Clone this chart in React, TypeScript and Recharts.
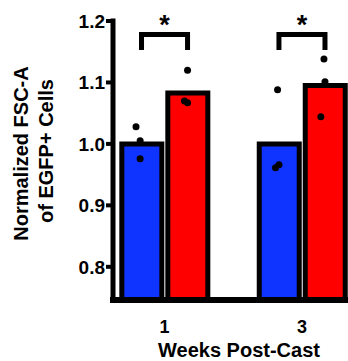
import React from "react";
import { ComposedChart, Bar, Scatter, XAxis, YAxis } from "recharts";

const weeks = [1, 3];
const barsBlue = [1.0, 1.0];
const barsRed = [1.083, 1.095];
const dotsBlue = [
  [1.028, 1.005, 0.976],
  [1.088, 0.961, 0.966],
];
const dotsRed = [
  [1.12, 1.07, 1.067],
  [1.138, 1.101, 1.044],
];
const jitterBlue = [
  [-0.08, -0.02, -0.02],
  [-0.02, -0.05, 0.0],
];
const jitterRed = [
  [0.0, -0.045, 0.0],
  [-0.015, 0.0, -0.06],
];
const yTicks = [0.8, 0.9, 1.0, 1.1, 1.2];
const bracketLow = 1.153;
const bracketHigh = 1.178;
const starLevel = 1.2;

const FONT = "'Liberation Sans', Arial, sans-serif";
const SIDE = 0.335;
const X_DOMAIN: [number, number] = [0.25, 3.67];

const barData = weeks.map((w, i) => ({ week: w, blue: barsBlue[i], red: barsRed[i] }));

const blueDots = weeks.flatMap((w, i) =>
  dotsBlue[i].map((v, j) => ({ week: w - SIDE + jitterBlue[i][j], value: v }))
);
const redDots = weeks.flatMap((w, i) =>
  dotsRed[i].map((v, j) => ({ week: w + SIDE + jitterRed[i][j], value: v }))
);
const brackets = weeks.map((w) => [
  { week: w - SIDE, value: bracketLow },
  { week: w - SIDE, value: bracketHigh },
  { week: w + SIDE, value: bracketHigh },
  { week: w + SIDE, value: bracketLow },
]);
const stars = weeks.map((w) => ({ week: w, value: starLevel }));

const Dot = (props: any) => <circle cx={props.cx} cy={props.cy} r={3.5} fill="#000" />;
const NoShape = () => <g />;
const Star = (props: any) => (
  <text
    x={props.cx}
    y={props.cy}
    dy={13}
    textAnchor="middle"
    fontSize={27}
    fontWeight="bold"
    fontFamily={FONT}
    fill="#000"
  >
    *
  </text>
);

const YLabel = () => (
  <g>
    <text
      transform="translate(28,153.5) rotate(-90)"
      textAnchor="middle"
      fontSize={20}
      fontWeight="bold"
      fontFamily={FONT}
      fill="#000"
    >
      Normalized FSC-A
    </text>
    <text
      transform="translate(53,151) rotate(-90)"
      textAnchor="middle"
      fontSize={20}
      fontWeight="bold"
      fontFamily={FONT}
      fill="#000"
    >
      of EGFP+ Cells
    </text>
  </g>
);

const XLabel = () => (
  <text
    x={239}
    y={356.5}
    textAnchor="middle"
    fontSize={20}
    fontWeight="bold"
    fontFamily={FONT}
    fill="#000"
  >
    Weeks Post-Cast
  </text>
);

export default function App() {
  return (
    <div style={{ position: "absolute", left: 0, top: 0, background: "#fff" }}>
      <ComposedChart
        width={348}
        height={361}
        data={barData}
        margin={{ top: 21, right: 0, bottom: 0, left: 0 }}
        barGap={6}
      >
        <XAxis
          dataKey="week"
          type="number"
          domain={X_DOMAIN}
          allowDataOverflow
          ticks={weeks}
          interval={0}
          height={61}
          tickLine={false}
          tickSize={6}
          tickMargin={14}
          axisLine={{ stroke: "#000", strokeWidth: 6, strokeLinecap: "square" }}
          tick={{ fill: "#000", fontSize: 18, fontWeight: "bold", fontFamily: FONT }}
          label={<XLabel />}
        />
        <XAxis xAxisId="marks" dataKey="week" type="number" domain={X_DOMAIN} hide />
        <YAxis
          type="number"
          domain={[0.746, 1.2]}
          ticks={yTicks}
          interval={0}
          width={113}
          tickFormatter={(v: number) => v.toFixed(1)}
          tickSize={7}
          tickMargin={1}
          tickLine={{ stroke: "#000", strokeWidth: 4 }}
          axisLine={{ stroke: "#000", strokeWidth: 5, strokeLinecap: "square" }}
          tick={{ fill: "#000", fontSize: 19, fontWeight: "bold", fontFamily: FONT }}
          label={<YLabel />}
        />
        <Bar dataKey="blue" fill="#1034ff" stroke="#000" strokeWidth={5} barSize={40} isAnimationActive={false} />
        <Bar dataKey="red" fill="#ff0000" stroke="#000" strokeWidth={5} barSize={40} isAnimationActive={false} />
        <Scatter xAxisId="marks" data={blueDots} dataKey="value" shape={Dot} isAnimationActive={false} />
        <Scatter xAxisId="marks" data={redDots} dataKey="value" shape={Dot} isAnimationActive={false} />
        {brackets.map((b, i) => (
          <Scatter
            key={"br" + i}
            xAxisId="marks"
            data={b}
            dataKey="value"
            shape={NoShape}
            line={{ stroke: "#000", strokeWidth: 5, strokeLinejoin: "miter" }}
            isAnimationActive={false}
          />
        ))}
        <Scatter xAxisId="marks" data={stars} dataKey="value" shape={Star} isAnimationActive={false} />
      </ComposedChart>
    </div>
  );
}
